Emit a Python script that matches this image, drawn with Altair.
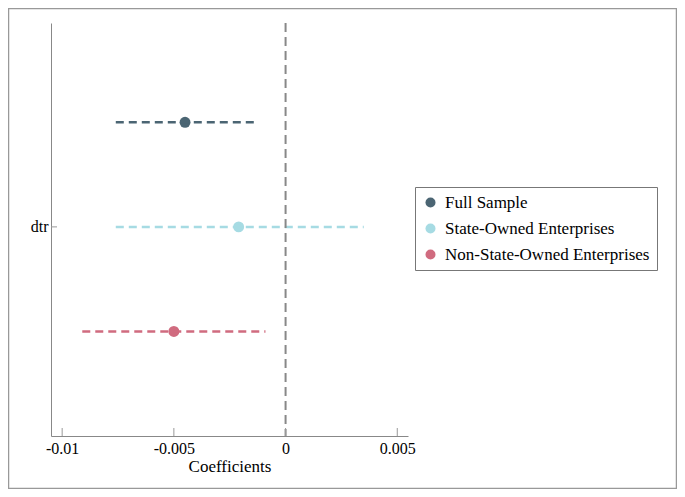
import altair as alt
import pandas as pd

groups = ["Full Sample", "State-Owned Enterprises", "Non-State-Owned Enterprises"]
coef = [-0.0045, -0.0021, -0.0050]
ci_low = [-0.0076, -0.0076, -0.0091]
ci_high = [-0.0013, 0.0035, -0.0009]
row_pos = [3, 2, 1]
colors = ["#4b6573", "#a6dbe3", "#d06b7f"]
x_ticks = [-0.01, -0.005, 0, 0.005]
y_label = "dtr"

W, H = 357, 413
FONT = "Liberation Serif"

df = pd.DataFrame({"group": groups, "coef": coef, "lo": ci_low, "hi": ci_high, "pos": row_pos})
ticks_df = pd.DataFrame({"t": x_ticks})
zero_df = pd.DataFrame({"z": [0.0]})
ytick_df = pd.DataFrame({"pos": [2]})

xscale = alt.Scale(domain=[-0.0105, 0.00548], nice=False, zero=False)
yscale = alt.Scale(domain=[0, 3.95], nice=False)
cscale = alt.Scale(domain=groups, range=colors)

xaxis = alt.Axis(values=x_ticks, labelExpr="datum.value == 0 ? '0' : toString(datum.value)",
                 title="Coefficients", grid=False, ticks=False, labelPadding=4, titlePadding=2,
                 labelFont=FONT, titleFont=FONT)
yaxis = alt.Axis(values=[2], labelExpr="'" + y_label + "'", title=None, grid=False, ticks=False,
                 labelPadding=3, labelFont=FONT)

legend = alt.Legend(title=None, orient="none", legendX=364, legendY=164,
                    symbolType="circle", symbolSize=100, labelFontSize=17, labelLimit=0,
                    labelFont=FONT, labelColor="black", strokeColor="#777",
                    padding=7, rowPadding=8, labelOffset=6, symbolStrokeWidth=0,
                    symbolOpacity=1)

points = alt.Chart(df).mark_circle(size=120, opacity=1).encode(
    x=alt.X("coef:Q", scale=xscale, axis=xaxis),
    y=alt.Y("pos:Q", scale=yscale, axis=yaxis),
    color=alt.Color("group:N", scale=cscale, sort=groups, legend=legend),
)

rules = alt.Chart(df).mark_rule(strokeWidth=2.5, strokeDash=[8, 5]).encode(
    x=alt.X("lo:Q", scale=xscale),
    x2="hi:Q",
    y=alt.Y("pos:Q", scale=yscale),
    color=alt.Color("group:N", scale=cscale, sort=groups, legend=legend),
)

zero = alt.Chart(zero_df).mark_rule(color="#888", strokeWidth=2, strokeDash=[9, 5]).encode(
    x=alt.X("z:Q", scale=xscale)
)

xt = alt.Chart(ticks_df).mark_rule(color="#999", strokeWidth=1).encode(
    x=alt.X("t:Q", scale=xscale), y=alt.value(H), y2=alt.value(H - 8)
)

yt = alt.Chart(ytick_df).mark_rule(color="#999", strokeWidth=1).encode(
    y=alt.Y("pos:Q", scale=yscale), x=alt.value(0), x2=alt.value(6)
)

frame = alt.Chart(zero_df).mark_rect(fill=None, stroke="#999", strokeWidth=1.5).encode(
    x=alt.value(-42.5), x2=alt.value(W + 268.5), y=alt.value(-14.5), y2=alt.value(H + 52.5)
)

chart = alt.layer(points, rules, zero, xt, yt, frame).properties(
    width=W, height=H,
    autosize=alt.AutoSizeParams(type="none"),
    padding={"left": 43, "top": 15, "right": 269, "bottom": 53},
    background="white",
).configure(font=FONT).configure_view(stroke=None).configure_axis(
    labelFont=FONT, titleFont=FONT, labelFontSize=16, titleFontSize=17,
    labelColor="black", titleColor="black", titleFontWeight="normal",
    domainColor="#888", domainWidth=1,
)

chart.save("out.html", embed_options={"renderer": "svg", "actions": False})
